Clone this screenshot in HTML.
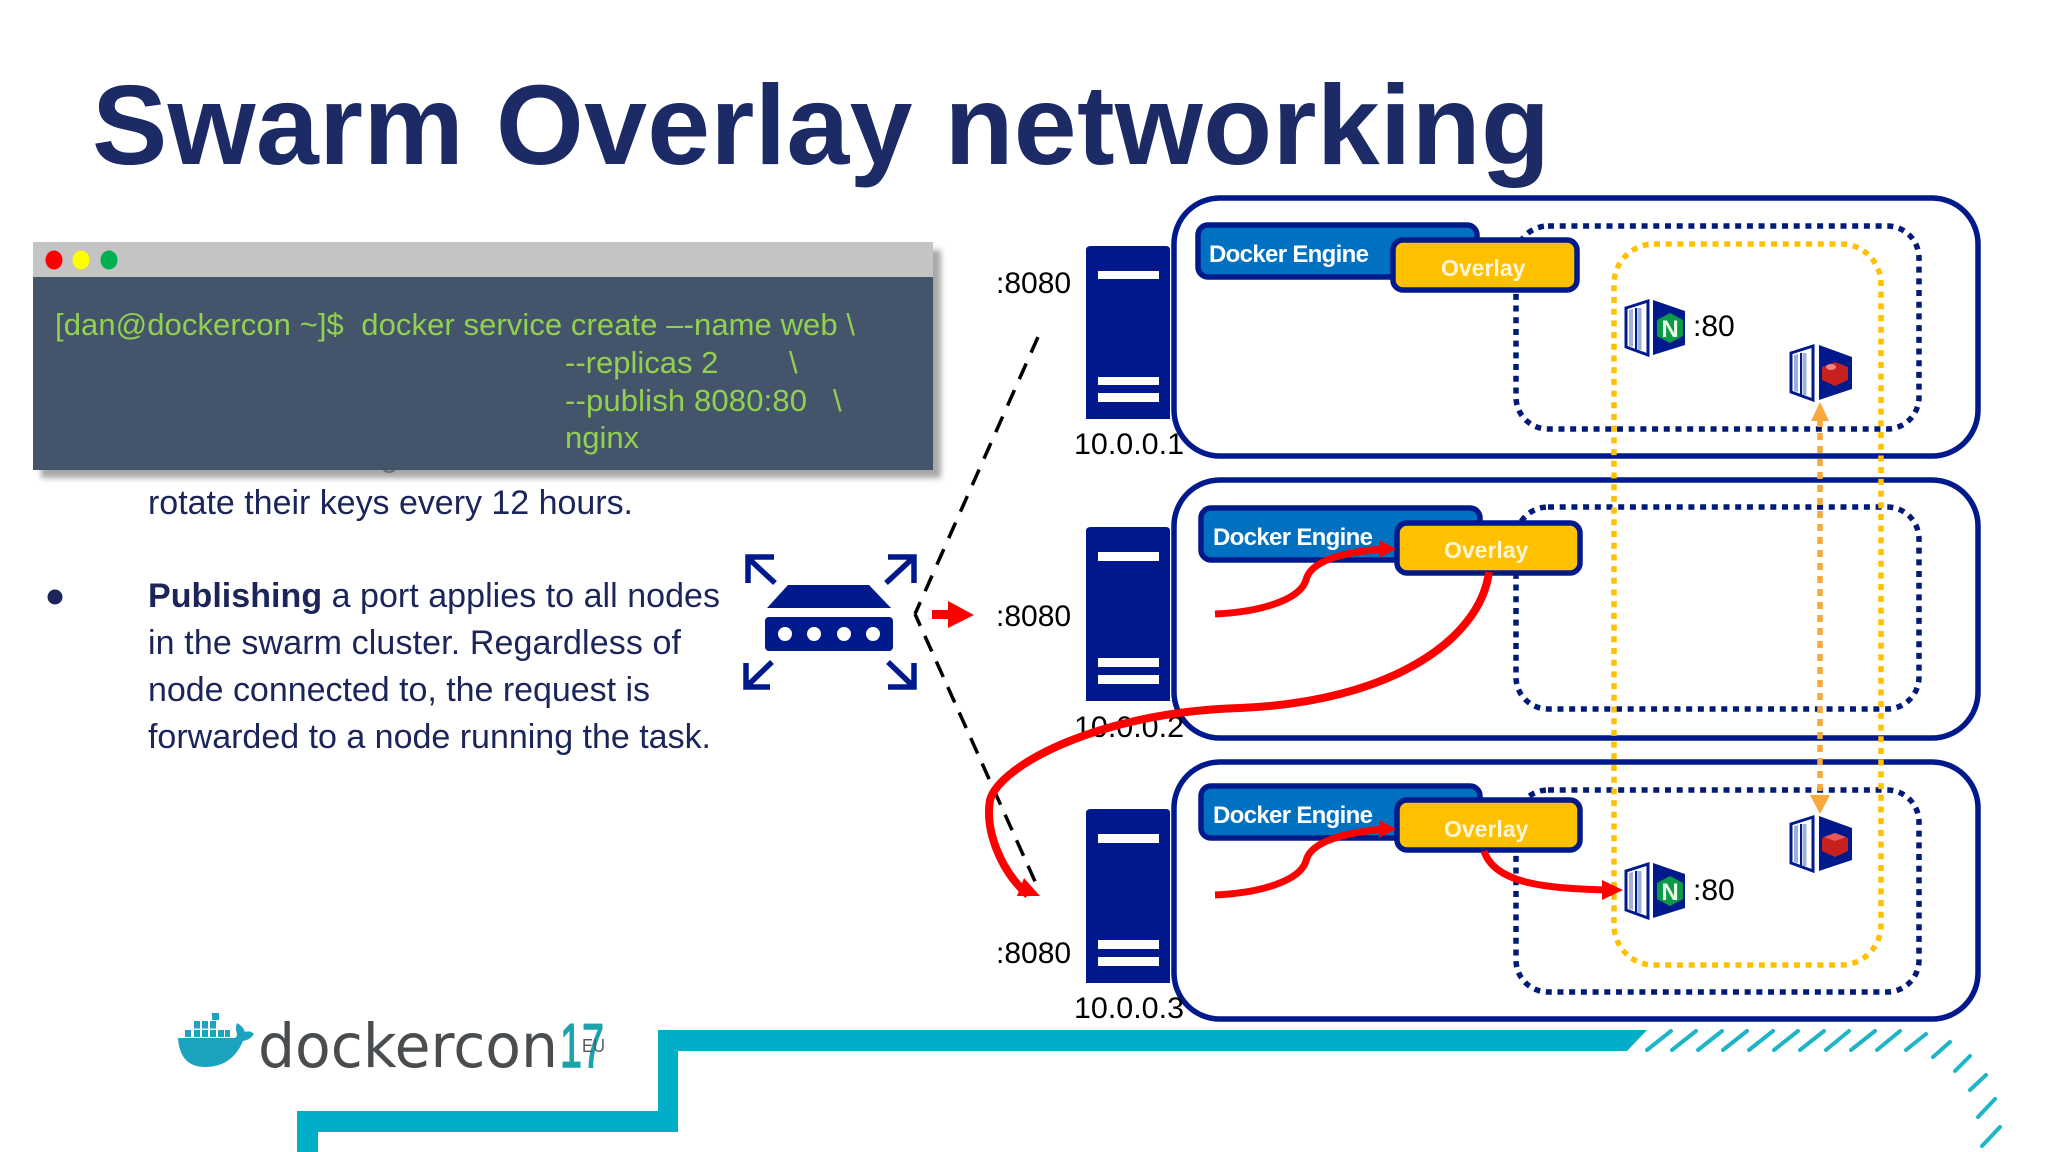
<!DOCTYPE html>
<html><head><meta charset="utf-8"><style>
html,body{margin:0;padding:0;background:#fff;width:2048px;height:1152px;overflow:hidden}
svg{display:block}
text{font-family:"Liberation Sans",sans-serif}
</style></head><body>
<svg width="2048" height="1152" viewBox="0 0 2048 1152" xmlns="http://www.w3.org/2000/svg">
<defs>
<filter id="b" x="-5%" y="-20%" width="110%" height="140%"><feGaussianBlur stdDeviation="3"/></filter>
</defs>
<rect width="2048" height="1152" fill="#fff"/>

<text x="92" y="164" font-size="113" font-weight="bold" fill="#1c2a65" textLength="1458" lengthAdjust="spacing">Swarm Overlay networking</text>

<!-- body text -->
<g font-size="34" fill="#1b2559">
<text x="380" y="466">g</text>
<text x="148" y="514" textLength="485">rotate their keys every 12 hours.</text>
<circle cx="55" cy="597" r="7.5"/>
<text x="148" y="607" textLength="572"><tspan font-weight="bold">Publishing</tspan> a port applies to all nodes</text>
<text x="148" y="654" textLength="533">in the swarm cluster. Regardless of</text>
<text x="148" y="701" textLength="502">node connected to, the request is</text>
<text x="148" y="748" textLength="563">forwarded to a node running the task.</text>
</g>

<!-- terminal -->
<rect x="41" y="250" width="900" height="228" fill="#8a8a8a" opacity=".75" filter="url(#b)"/>
<rect x="33" y="242" width="900" height="35" fill="#c4c4c4"/>
<rect x="33" y="277" width="900" height="193" fill="#44546a"/>
<ellipse cx="54" cy="260" rx="8.5" ry="9.5" fill="#ff0000"/>
<ellipse cx="81" cy="260" rx="8.5" ry="9.5" fill="#ffff00"/>
<ellipse cx="109" cy="260" rx="8.5" ry="9.5" fill="#00b050"/>
<g font-size="31" fill="#92d050">
<text x="55" y="335" textLength="800" xml:space="preserve">[dan@dockercon ~]$  docker service create –-name web \</text>
<text x="565" y="373">--replicas 2</text><text x="789" y="373">\</text>
<text x="565" y="411" textLength="242">--publish 8080:80</text><text x="833" y="411">\</text>
<text x="565" y="448">nginx</text>
</g>

<!-- router icon -->
<g fill="#001a8c">
<polygon points="788,585 869,585 891,608 767,608"/>
<rect x="765" y="617" width="128" height="34" rx="4"/>
</g>
<g fill="#fff"><circle cx="785" cy="634" r="7"/><circle cx="814" cy="634" r="7"/><circle cx="844" cy="634" r="7"/><circle cx="873" cy="634" r="7"/></g>
<g fill="none" stroke="#001a8c" stroke-width="5.5">
<path d="M775,583 L748,558 M774,557 H748 V583"/>
<path d="M886,583 L913,558 M888,557 H914 V583"/>
<path d="M772,662 L746,687 M746,663 V687 H770"/>
<path d="M888,662 L914,687 M914,663 V687 H888"/>
</g>

<!-- dashed fan -->
<path d="M915,614 L1038,337" fill="none" stroke="#000" stroke-width="3.5" stroke-dasharray="17 12" stroke-dashoffset="4"/>
<path d="M915,614 L1038,888" fill="none" stroke="#000" stroke-width="3.5" stroke-dasharray="17 11" stroke-dashoffset="4"/>
<polygon points="932,610 948,610 948,601 974,615 948,628 948,619 932,619" fill="#ff0000"/>

<!-- outer boxes -->
<g fill="none" stroke="#001a8c" stroke-width="5.5">
<rect x="1174" y="198" width="804" height="258" rx="46"/>
<rect x="1174" y="480" width="804" height="258" rx="46"/>
<rect x="1174" y="762" width="804" height="257" rx="46"/>
</g>

<!-- servers -->
<g fill="#00188c">
<path d="M1091,246 H1166 Q1170,246 1170,250 V419 H1086 V250 Q1086,246 1091,246Z"/>
<path d="M1091,527 H1166 Q1170,527 1170,531 V701 H1086 V531 Q1086,527 1091,527Z"/>
<path d="M1091,809 H1166 Q1170,809 1170,813 V983 H1086 V813 Q1086,809 1091,809Z"/>
</g>
<g fill="#fff">
<rect x="1098" y="271" width="61" height="8"/><rect x="1098" y="377" width="61" height="8"/><rect x="1098" y="393" width="61" height="9"/>
<rect x="1098" y="552" width="61" height="9"/><rect x="1098" y="658" width="61" height="9"/><rect x="1098" y="675" width="61" height="9"/>
<rect x="1098" y="834" width="61" height="9"/><rect x="1098" y="940" width="61" height="9"/><rect x="1098" y="957" width="61" height="9"/>
</g>
<g font-size="30" fill="#000">
<text x="996" y="293">:8080</text><text x="996" y="626">:8080</text><text x="996" y="963">:8080</text>
<text x="1074" y="454" textLength="110" lengthAdjust="spacingAndGlyphs">10.0.0.1</text><text x="1074" y="737" textLength="110" lengthAdjust="spacingAndGlyphs">10.0.0.2</text><text x="1074" y="1018" textLength="110" lengthAdjust="spacingAndGlyphs">10.0.0.3</text>
</g>

<!-- dotted navy networks -->
<g fill="none" stroke="#001a78" stroke-width="5.5" stroke-dasharray="6 5.7">
<rect x="1516" y="226" width="403" height="203" rx="32"/>
<rect x="1516" y="507" width="403" height="202" rx="32"/>
<rect x="1516" y="790" width="403" height="202" rx="32"/>
</g>
<!-- yellow ingress -->
<rect x="1614" y="244" width="267" height="721" rx="40" fill="none" stroke="#ffc000" stroke-width="5.5" stroke-dasharray="6 5.7"/>
<!-- orange link -->
<path d="M1820,420 V795" stroke="#f9a83c" stroke-width="5.5" stroke-dasharray="7 6" fill="none"/>
<polygon points="1820,402 1811,421 1829,421" fill="#f9a83c"/>
<polygon points="1820,814 1810,795 1830,795" fill="#f9a83c"/>

<!-- engines -->
<g fill="#0070c0" stroke="#001a8c" stroke-width="5.5">
<rect x="1198" y="225" width="279" height="52" rx="10"/>
<rect x="1201" y="508" width="279" height="52" rx="10"/>
<rect x="1201" y="786" width="279" height="52" rx="10"/>
</g>
<g fill="#ffc000" stroke="#001a8c" stroke-width="5.5">
<rect x="1393" y="240" width="184" height="50" rx="10"/>
<rect x="1397" y="523" width="183" height="50" rx="10"/>
<rect x="1397" y="800" width="183" height="50" rx="10"/>
</g>
<g font-size="24" font-weight="bold" fill="#fff">
<text x="1209" y="262" textLength="160">Docker Engine</text>
<text x="1213" y="545" textLength="160">Docker Engine</text>
<text x="1213" y="823" textLength="160">Docker Engine</text>
</g>
<g font-size="23" font-weight="bold" fill="#fff6d8">
<text x="1441" y="276">Overlay</text>
<text x="1444" y="558">Overlay</text>
<text x="1444" y="837">Overlay</text>
</g>

<!-- containers -->
<g transform="translate(1625,300)">
<polygon points="1,8 23,1 23,55 1,47" fill="#fff" stroke="#001a8c" stroke-width="3"/>
<polygon points="4,10 8,9 8,47 4,46" fill="#9fb0d6"/><rect x="10" y="8" width="2" height="42" fill="#001a8c"/><rect x="12.5" y="8" width="4" height="42" fill="#9fb0d6"/>
<polygon points="28,0 60,11 60,45 28,55" fill="#001a8c"/>
<polygon points="45,13 58,20 58,36 45,43 32,36 32,20" fill="#0d9a48"/>
<text x="45" y="37" font-size="24" font-weight="bold" fill="#e8ffe8" text-anchor="middle">N</text>
</g>
<g transform="translate(1625,863)">
<polygon points="1,8 23,1 23,55 1,47" fill="#fff" stroke="#001a8c" stroke-width="3"/>
<polygon points="4,10 8,9 8,47 4,46" fill="#9fb0d6"/><rect x="10" y="8" width="2" height="42" fill="#001a8c"/><rect x="12.5" y="8" width="4" height="42" fill="#9fb0d6"/>
<polygon points="28,0 60,11 60,45 28,55" fill="#001a8c"/>
<polygon points="45,13 58,20 58,36 45,43 32,36 32,20" fill="#0d9a48"/>
<text x="45" y="37" font-size="24" font-weight="bold" fill="#e8ffe8" text-anchor="middle">N</text>
</g>
<g transform="translate(1790,345)">
<polygon points="1,8 23,1 23,55 1,47" fill="#fff" stroke="#001a8c" stroke-width="3"/>
<polygon points="4,10 8,9 8,47 4,46" fill="#9fb0d6"/><rect x="10" y="8" width="2" height="42" fill="#001a8c"/><rect x="12.5" y="8" width="4" height="42" fill="#9fb0d6"/>
<polygon points="29,0 62,12 62,44 29,55" fill="#001a8c"/>
<polygon points="45,17 58,22 58,35 45,41 32,35 32,22" fill="#c8201e"/>
<ellipse cx="41" cy="22" rx="5" ry="3" fill="#ee8886"/>
</g>
<g transform="translate(1790,816)">
<polygon points="1,8 23,1 23,55 1,47" fill="#fff" stroke="#001a8c" stroke-width="3"/>
<polygon points="4,10 8,9 8,47 4,46" fill="#9fb0d6"/><rect x="10" y="8" width="2" height="42" fill="#001a8c"/><rect x="12.5" y="8" width="4" height="42" fill="#9fb0d6"/>
<polygon points="29,0 62,12 62,44 29,55" fill="#001a8c"/>
<polygon points="45,17 58,22 58,35 45,41 32,35 32,22" fill="#c8201e"/>
<polygon points="45,17 56,21 45,25 34,21" fill="#e85a58"/>
</g>
<g font-size="30" fill="#000"><text x="1693" y="336">:80</text><text x="1693" y="900">:80</text></g>

<!-- red traffic -->
<g fill="none" stroke="#ff0000">
<path d="M1215,614 C1260,612 1300,600 1306,580 C1310,562 1340,552 1384,549" stroke-width="7"/>
<path d="M1215,895 C1260,893 1300,881 1306,861 C1310,843 1340,833 1384,829" stroke-width="7"/>
<path d="M1489,572 C1480,640 1390,702 1240,708 C1100,712 1000,765 990,800 C985,830 1000,870 1028,895" stroke-width="8"/>
<path d="M1484,851 C1495,885 1550,888 1605,890" stroke-width="7"/>
</g>
<g fill="#ff0000">
<polygon points="1396,549 1379,540 1379,558"/>
<polygon points="1396,829 1379,820 1379,838"/>
<polygon points="1017,896 1040,896 1024,878"/>
<polygon points="1623,890 1602,880 1602,900"/>
</g>

<!-- teal footer -->
<polygon points="297,1152 297,1111 658,1111 658,1030 1647,1030 1627,1051 678,1051 678,1132 318,1132 318,1152" fill="#00aec7"/>
<g stroke="#1fb5c8" stroke-width="4" stroke-linecap="round" fill="none">
<path d="M1647,1050 L1671,1031 M1672,1050 L1696,1031 M1698,1050 L1722,1031 M1723,1050 L1747,1031 M1749,1050 L1773,1031 M1774,1050 L1798,1031 M1800,1050 L1826,1050 L1849,1031 M1851,1050 L1875,1031 M1877,1050 L1900,1031" stroke-opacity="0"/>
<path d="M1800,1050 L1824,1031 M1826,1050 L1849,1031"/>
<path d="M1647,1050 L1671,1031 M1672,1050 L1696,1031 M1698,1050 L1722,1031 M1723,1050 L1747,1031 M1749,1050 L1773,1031 M1774,1050 L1798,1031 M1851,1050 L1875,1031 M1877,1050 L1900,1031"/>
<path d="M1906,1050 L1926,1034 M1933,1057 L1950,1042 M1955,1071 L1970,1056 M1970,1090 L1986,1075 M1978,1117 L1995,1099 M1982,1146 L2000,1127"/>
</g>

<!-- logo -->
<g fill="#1ba3c0">
<path d="M178,1038 H234 Q237,1038 237,1034 Q235,1028 237,1023 Q243,1026 245,1032 Q250,1030 254,1034 Q250,1040 243,1041 Q232,1067 205,1067 Q180,1067 178,1038Z"/>
<rect x="185" y="1030" width="6" height="7"/><rect x="194" y="1021" width="6" height="7.5"/><rect x="202" y="1021" width="6" height="7.5"/><rect x="210" y="1021" width="6" height="7.5"/>
<rect x="194" y="1030" width="6" height="7"/><rect x="202" y="1030" width="6" height="7"/><rect x="210" y="1030" width="6" height="7"/><rect x="218" y="1030" width="6" height="7"/><rect x="225" y="1030" width="5" height="7"/>
<rect x="212" y="1013" width="7" height="7"/>
</g>
<text x="258" y="1067" font-size="61" fill="#4a4d50" style="font-family:'DejaVu Sans',sans-serif" textLength="300" lengthAdjust="spacingAndGlyphs">dockercon</text>
<text x="560" y="1067" font-size="62" fill="#1aa3ad" stroke="#1aa3ad" stroke-width="1.5" textLength="44" lengthAdjust="spacingAndGlyphs">17</text>
<text x="582" y="1052" font-size="18" fill="#55585a" textLength="23" lengthAdjust="spacingAndGlyphs">EU</text>
</svg>
</body></html>
